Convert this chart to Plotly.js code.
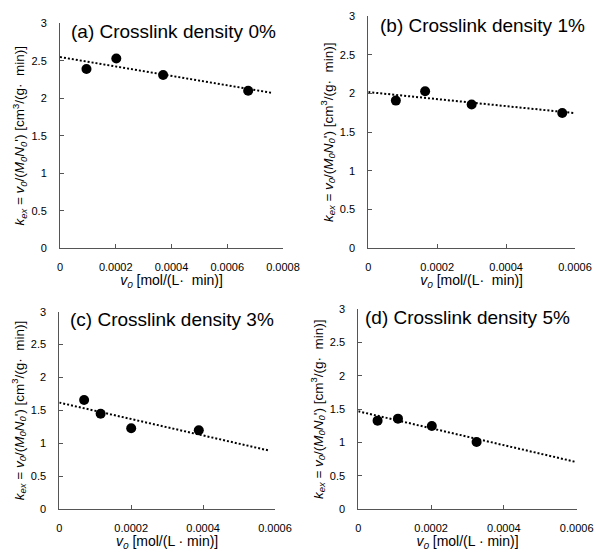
<!DOCTYPE html>
<html><head><meta charset="utf-8">
<script src="https://cdn.plot.ly/plotly-3.0.1.min.js"></script>
<style>html,body{margin:0;padding:0;background:#fff}#chart{width:596px;height:554px}</style>
</head><body><div id="chart"></div>
<script>
// ---- data ----
const panelTitles = ["(a) Crosslink density 0%", "(b) Crosslink density 1%", "(c) Crosslink density 3%", "(d) Crosslink density 5%"];
const xA = [0.000095, 0.000202, 0.00037, 0.000675];
const yA = [2.39, 2.53, 2.31, 2.10];
const xB = [0.00008, 0.000165, 0.0003, 0.000563];
const yB = [1.91, 2.03, 1.86, 1.75];
const xC = [0.000069, 0.000115, 0.0002, 0.000388];
const yC = [1.66, 1.45, 1.23, 1.20];
const xD = [0.000053, 0.000109, 0.000202, 0.000325];
const yD = [1.33, 1.36, 1.25, 1.01];
// dotted trend lines: end points
const trendXA = [0, 0.000764], trendYA = [2.55, 2.07];
const trendXB = [0, 0.000595], trendYB = [2.02, 1.75];
const trendXC = [0, 0.000585], trendYC = [1.62, 0.89];
const trendXD = [0, 0.000598], trendYD = [1.47, 0.71];
// tick labels
const xTickValsA = [0, 0.0002, 0.0004, 0.0006, 0.0008];
const xTickTextA = ["0", "0.0002", "0.0004", "0.0006", "0.0008"];
const xTickVals = [0, 0.0002, 0.0004, 0.0006];
const xTickText = ["0", "0.0002", "0.0004", "0.0006"];
const yTickVals = [0, 0.5, 1, 1.5, 2, 2.5, 3];
const yTickText = ["0", "0.5", "1", "1.5", "2", "2.5", "3"];
const xTitleTop = "<i>v</i><sub><i>0</i></sub> [mol/(L·  min)]";
const xTitleBottom = "<i>v</i><sub><i>0</i></sub> [mol/(L · min)]";
const yTitle = "<i>k</i><sub><i>ex</i></sub> = <i>v</i><sub><i>0</i></sub>/(<i>M</i><sub><i>0</i></sub><i>N</i><sub><i>0</i></sub>') [cm<sup>3</sup>/(g·  min)]";

// ---- layout helpers ----
const W = 596, H = 554;
const FONT = "Arial, 'Liberation Sans', sans-serif";
const px = v => v / W;
const py = v => 1 - v / H;

const xs = [xA, xB, xC, xD], ys = [yA, yB, yC, yD];
const txs = [trendXA, trendXB, trendXC, trendXD], tys = [trendYA, trendYB, trendYC, trendYD];
const traces = [];
for (let i = 0; i < 4; i++) {
  const sx = i === 0 ? 'x' : 'x' + (i + 1), sy = i === 0 ? 'y' : 'y' + (i + 1);
  traces.push({x: txs[i], y: tys[i], xaxis: sx, yaxis: sy, mode: 'lines', type: 'scatter',
    line: {color: '#000', width: 2, dash: '2px,2px'}, hoverinfo: 'skip', showlegend: false});
  traces.push({x: xs[i], y: ys[i], xaxis: sx, yaxis: sy, mode: 'markers', type: 'scatter',
    marker: {color: '#000', size: 10, symbol: 'circle'}, showlegend: false});
}

// plot areas in pixels [left, right, top, bottom]
const boxes = [[60, 283, 23.3, 248.3], [368.3, 575, 16.3, 248.3], [59.3, 275, 311.7, 509.3], [358.3, 576.7, 309.3, 509.3]];
const xRanges = [[0, 0.0008], [0, 0.0006], [0, 0.0006], [0, 0.0006]];

function xAxis(i) {
  const b = boxes[i];
  return {
    domain: [px(b[0]), px(b[1])], range: xRanges[i], anchor: i === 0 ? 'y' : 'y' + (i + 1),
    showgrid: false, zeroline: false, showline: true, linecolor: '#555', linewidth: 1,
    ticks: 'inside', ticklen: 4, tickcolor: '#555',
    tickvals: i === 0 ? xTickValsA : xTickVals, ticktext: i === 0 ? xTickTextA : xTickText,
    tickfont: {family: FONT, size: 11, color: '#000'}, ticklabelstandoff: 8,
    title: {text: i < 2 ? xTitleTop : xTitleBottom, font: {family: FONT, size: 14, color: '#000'}, standoff: 3}
  };
}
function yAxis(i) {
  const b = boxes[i];
  return {
    domain: [py(b[3]), py(b[2])], range: [0, 3], anchor: i === 0 ? 'x' : 'x' + (i + 1),
    showgrid: false, zeroline: false, showline: true, linecolor: '#555', linewidth: 1,
    ticks: 'inside', ticklen: 4, tickcolor: '#555',
    tickvals: yTickVals, ticktext: yTickText,
    tickfont: {family: FONT, size: 11, color: '#000'}, ticklabelstandoff: 10,
    title: {text: yTitle, font: {family: FONT, size: 13.5, color: '#000'}, standoff: 3}
  };
}

const titlePos = [[69, 19], [378, 13], [67.5, 307], [362.5, 305]];
const annotations = panelTitles.map((t, i) => ({
  text: t, xref: 'paper', yref: 'paper', x: px(titlePos[i][0]), y: py(titlePos[i][1]),
  xanchor: 'left', yanchor: 'top', showarrow: false,
  font: {family: FONT, size: 19, color: '#000'}
}));

const layout = {
  width: W, height: H, margin: {l: 0, r: 0, t: 0, b: 0},
  paper_bgcolor: '#fff', plot_bgcolor: '#fff', showlegend: false,
  annotations: annotations
};
for (let i = 0; i < 4; i++) {
  layout[i === 0 ? 'xaxis' : 'xaxis' + (i + 1)] = xAxis(i);
  layout[i === 0 ? 'yaxis' : 'yaxis' + (i + 1)] = yAxis(i);
}
Plotly.newPlot('chart', traces, layout, {displayModeBar: false, staticPlot: true});
</script>
</body></html>
